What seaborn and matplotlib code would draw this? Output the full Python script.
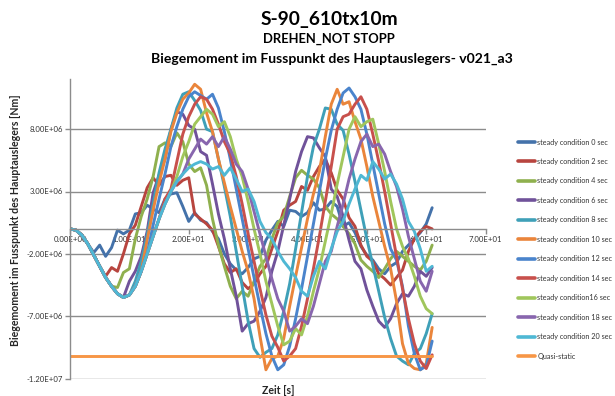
import numpy as np
import pandas as pd
import matplotlib
matplotlib.use("Agg")
import matplotlib.pyplot as plt
import seaborn as sns
from matplotlib.ticker import FixedLocator, FuncFormatter
from matplotlib.lines import Line2D

# Time stamps in seconds (one sample per second)
TIME_S = list(range(62))

# Bending moment at the boom foot, in units of 1e6 Nm
SC_00 = [0.0, -0.1, -0.5, -1.2, -1.9, -1.3, -2.2, -1.5, -0.1, -0.4,
         -0.1, 1.2, 1.3, 1.9, 1.6, 1.3, 2.4, 2.8, 2.9, 1.8,
         0.6, 1.3, 0.7, 0.5, -0.2, -0.8, -2.0, -2.8, -3.3, -3.6,
         -3.1, -2.4, -2.2, -0.9, -0.1, 0.6, 0.2, 1.5, 1.4, 1.0,
         1.3, 2.1, 1.5, 1.6, 2.2, 1.8, 0.2, 0.5, -0.3, -1.4,
         -2.1, -2.5, -3.2, -3.6, -3.0, -2.7, -1.8, -1.3, -0.8, -0.3,
         0.4, 1.7]
SC_02 = [0.0, -0.1, -0.5, -1.2, -2.1, -3.0, -3.8, -3.1, -3.4, -2.0,
         -0.4, 0.3, 1.8, 3.3, 4.1, 3.5, 4.2, 4.3, 3.5, 3.9,
         4.1, 1.2, 0.8, 0.4, -0.1, -1.4, -2.8, -3.5, -3.2, -4.3,
         -4.8, -4.4, -3.6, -3.0, -1.6, -0.2, 1.5, 1.9, 2.2, 3.4,
         3.1, 4.2, 5.0, 5.6, 4.5, 3.1, 2.4, 0.9, 0.2, -1.3,
         -2.2, -2.6, -3.6, -4.0, -4.5, -3.9, -3.3, -1.8, -0.8, -0.2,
         0.2, 0.0]
SC_04 = [0.0, -0.1, -0.5, -1.2, -2.1, -3.0, -3.9, -4.6, -4.7, -3.5,
         -3.2, -0.8, 1.0, 2.4, 4.2, 6.6, 6.9, 6.6, 7.7, 7.0,
         5.2, 4.6, 4.9, 3.5, 0.8, -1.3, -3.0, -4.6, -5.6, -5.0,
         -5.4, -4.2, -3.0, -2.4, -0.8, 0.5, 1.0, 2.6, 4.1, 4.7,
         4.3, 4.0, 3.3, 1.8, 1.2, 0.8, 0.2, -0.4, -1.2, -2.5,
         -3.0, -3.4, -3.9, -3.2, -2.4, -1.8, -2.2, -2.6, -3.0, -3.3,
         -2.6, -1.3]
SC_06 = [0.0, -0.1, -0.5, -1.2, -2.1, -3.0, -3.9, -4.6, -5.2, -5.5,
         -4.2, -3.4, -2.2, -0.2, 2.9, 4.3, 5.6, 8.0, 9.4, 9.2,
         8.3, 8.0, 6.2, 5.9, 3.6, 1.2, -0.8, -3.2, -5.4, -8.2,
         -7.6, -7.4, -6.6, -5.5, -3.4, -1.8, 0.3, 2.4, 4.6, 6.2,
         7.4, 7.3, 6.5, 5.8, 3.2, 2.6, 1.0, -0.9, -2.6, -3.2,
         -4.9, -6.2, -7.4, -7.9, -7.2, -6.0, -5.2, -5.4, -4.6, -3.4,
         -3.8, -3.1]
SC_08 = [0.0, -0.1, -0.5, -1.2, -2.1, -3.0, -3.9, -4.6, -5.2, -5.5,
         -5.3, -4.2, -2.6, -0.5, 2.0, 4.5, 6.4, 8.0, 9.7, 10.8,
         11.0, 10.3, 9.5, 8.0, 7.8, 5.6, 3.4, 1.0, -1.8, -4.6,
         -7.4, -9.6, -10.3, -9.9, -9.6, -8.5, -6.6, -4.4, -1.6, 1.3,
         4.2, 6.6, 8.0, 9.7, 9.6, 8.4, 7.9, 6.0, 3.8, 1.5,
         -0.8, -2.9, -5.0, -7.1, -8.8, -10.2, -10.6, -10.9, -10.0, -9.6,
         -8.4, -6.8]
SC_10 = [0.0, -0.1, -0.5, -1.2, -2.1, -3.0, -3.9, -4.6, -5.2, -5.5,
         -5.3, -4.6, -3.4, -0.9, 1.5, 3.7, 5.6, 7.8, 9.3, 10.4,
         10.9, 11.6, 11.2, 9.3, 7.8, 5.6, 3.7, 1.8, 0.0, -1.8,
         -3.4, -5.6, -8.6, -11.3, -10.4, -10.2, -8.8, -6.2, -3.8, -1.5,
         0.8, 2.8, 4.6, 7.4, 10.0, 11.2, 10.0, 10.2, 8.6, 7.2,
         5.0, 2.6, 0.6, -1.4, -3.2, -5.8, -9.2, -10.8, -11.2, -11.3,
         -10.8, -7.9]
SC_12 = [0.0, -0.1, -0.5, -1.2, -2.1, -3.0, -3.9, -4.6, -5.2, -5.5,
         -5.3, -4.6, -3.4, -2.0, 0.3, 2.4, 4.4, 6.6, 8.2, 9.6,
         10.6, 11.0, 10.7, 10.4, 10.8, 9.7, 7.8, 5.6, 3.2, 0.8,
         -1.6, -3.9, -6.2, -8.4, -10.2, -11.3, -10.9, -9.4, -7.2, -4.8,
         -2.2, 0.4, 3.0, 5.6, 7.9, 9.6, 10.9, 11.3, 10.6, 9.6,
         7.6, 5.2, 2.8, 0.4, -1.6, -2.5, -4.6, -7.8, -10.0, -11.3,
         -11.0, -9.0]
SC_14 = [0.0, -0.1, -0.5, -1.2, -2.1, -3.0, -3.9, -4.6, -5.2, -5.5,
         -5.3, -4.6, -3.4, -2.0, -0.6, 0.8, 2.4, 3.2, 5.4, 7.6,
         9.0, 10.0, 10.6, 10.4, 9.6, 8.4, 7.0, 6.0, 4.2, 2.0,
         -0.4, -2.6, -4.8, -6.9, -8.6, -9.5, -10.6, -10.2, -9.6, -7.8,
         -5.6, -3.2, -0.6, 2.2, 5.0, 8.0, 9.0, 9.2, 10.0, 10.6,
         9.6, 7.6, 5.4, 3.0, 0.4, -2.2, -4.8, -7.2, -9.2, -10.6,
         -11.2, -10.1]
SC_16 = [0.0, -0.1, -0.5, -1.2, -2.1, -3.0, -3.9, -4.6, -5.2, -5.5,
         -5.3, -4.6, -3.4, -2.0, -0.6, 0.8, 2.0, 3.0, 4.2, 5.8,
         7.0, 8.4, 9.0, 9.6, 9.2, 8.2, 8.6, 7.4, 5.6, 4.2,
         2.2, 0.0, -2.0, -4.2, -6.0, -7.8, -9.3, -9.0, -8.0, -8.5,
         -7.0, -5.0, -3.2, -1.0, 1.2, 3.6, 5.8, 8.0, 9.0, 8.2,
         8.6, 8.8, 6.8, 4.6, 2.2, 0.0, -1.4, -2.4, -3.8, -5.4,
         -6.4, -6.8]
SC_18 = [0.0, -0.1, -0.5, -1.2, -2.1, -3.0, -3.9, -4.6, -5.2, -5.5,
         -5.3, -4.6, -3.4, -2.0, -0.6, 0.8, 2.0, 3.0, 3.8, 4.4,
         5.6, 6.4, 7.2, 6.8, 7.4, 6.6, 7.4, 6.4, 5.2, 4.6,
         3.2, 1.4, -0.4, -2.2, -4.0, -5.6, -6.6, -8.2, -7.8, -7.2,
         -7.6, -6.2, -4.4, -2.6, -1.8, 0.2, 2.0, 4.0, 5.6, 7.0,
         7.6, 6.6, 6.8, 6.0, 4.6, 3.4, 1.6, -0.6, -2.4, -4.2,
         -5.0, -3.4]
SC_20 = [0.0, -0.1, -0.5, -1.2, -2.1, -3.0, -3.9, -4.6, -5.2, -5.5,
         -5.3, -4.6, -3.4, -2.0, -0.6, 0.8, 2.0, 3.0, 3.8, 4.4,
         4.9, 5.2, 5.4, 5.2, 4.8, 5.0, 4.3, 4.9, 4.0, 3.0,
         3.2, 2.2, 0.6, -0.3, -0.8, -1.8, -2.6, -3.2, -3.9, -5.0,
         -5.4, -3.8, -2.6, -3.2, -1.6, -0.2, 0.6, 2.0, 3.2, 4.3,
         3.9, 5.4, 4.8, 4.0, 4.4, 3.6, 2.4, 0.6, -0.2, -1.6,
         -3.4, -3.0]
QUASI_T = [0, 61]
QUASI_V = [-10.2, -10.2]

SERIES_NAMES = [
    "steady condition 0 sec", "steady condition 2 sec", "steady condition 4 sec",
    "steady condition 6 sec", "steady condition 8 sec", "steady condition 10 sec",
    "steady condition 12 sec", "steady condition 14 sec", "steady condition16 sec",
    "steady condition 18 sec", "steady condition 20 sec", "Quasi-static",
]
SERIES_COLORS = [
    "#4472AA", "#B8453F", "#8FB04E", "#70529A", "#3FA0B8", "#EA853B",
    "#4A84CC", "#C8504C", "#A0C65C", "#8866AE", "#4FB8D4", "#F79646",
]
X_TICKS = [0, 10, 20, 30, 40, 50, 60, 70]
Y_TICKS = [-1.2e7, -7e6, -2e6, 3e6, 8e6]

series_values = [SC_00, SC_02, SC_04, SC_06, SC_08, SC_10,
                 SC_12, SC_14, SC_16, SC_18, SC_20]

frames = []
for name, vals in zip(SERIES_NAMES[:-1], series_values):
    frames.append(pd.DataFrame({"t": TIME_S[:len(vals)],
                                "v": np.array(vals) * 1e6,
                                "series": name}))
frames.append(pd.DataFrame({"t": QUASI_T, "v": np.array(QUASI_V) * 1e6,
                            "series": SERIES_NAMES[-1]}))
df = pd.concat(frames, ignore_index=True)

sns.set_style("white")
plt.rcParams["font.family"] = ["Lato", "DejaVu Sans"]

fig = plt.figure(figsize=(6.15, 3.96), dpi=100)
ax = fig.add_axes([70 / 615, 17.5 / 396, 415.6 / 615, 299.2 / 396])

palette = dict(zip(SERIES_NAMES, SERIES_COLORS))
sns.lineplot(data=df, x="t", y="v", hue="series", hue_order=SERIES_NAMES,
             palette=palette, linewidth=2.1, sort=False, estimator=None,
             legend=False, ax=ax)

ax.set_xlim(0, 70)
ax.set_ylim(-1.2e7, 1.2e7)
ax.xaxis.set_major_locator(FixedLocator(X_TICKS))
ax.yaxis.set_major_locator(FixedLocator(Y_TICKS))
sci = FuncFormatter(lambda v, _: f"{v:.2E}")
ax.xaxis.set_major_formatter(sci)
ax.yaxis.set_major_formatter(sci)
ax.set_xlabel("")
ax.set_ylabel("")

ax.yaxis.grid(True, color="#8c8c8c", linewidth=1.0)
ax.xaxis.grid(False)
ax.set_axisbelow(True)
for side in ("top", "right"):
    ax.spines[side].set_visible(False)
ax.spines["bottom"].set_position(("data", 0))
for side in ("left", "bottom"):
    ax.spines[side].set_color("#8c8c8c")
    ax.spines[side].set_linewidth(1.0)
ax.tick_params(axis="both", which="major", labelsize=5.6, labelcolor="#333333",
               color="#8c8c8c", width=1.0, length=3.5, pad=1.5, direction="out")
ax.tick_params(axis="y", left=True)
ax.tick_params(axis="x", bottom=True)

# Titles
fig.text(0.535, 1 - 19 / 396, "S-90_610tx10m", ha="center", va="center",
         fontsize=13.8, fontweight="bold", color="black")
fig.text(0.535, 1 - 38.5 / 396, "DREHEN_NOT STOPP", ha="center", va="center",
         fontsize=9.4, fontweight="bold", color="black")
fig.text(0.539, 1 - 59 / 396, "Biegemoment im Fusspunkt des Hauptauslegers- v021_a3",
         ha="center", va="center", fontsize=10.1, fontweight="bold", color="black")
fig.text(16 / 615, 1 - 220 / 396, "Biegemoment im Fusspunkt des Hauptauslegers [Nm]",
         ha="center", va="center", rotation=90, fontsize=7.6, fontweight="bold")
fig.text(278 / 615, 1 - 391 / 396, "Zeit [s]", ha="center", va="center",
         fontsize=7.6, fontweight="bold")

# Legend on the right
handles = [Line2D([0], [0], color=c, linewidth=2.6) for c in SERIES_COLORS]
fig.legend(handles, SERIES_NAMES, loc="upper left",
           bbox_to_anchor=(518 / 615, 1 - 138.5 / 396), frameon=False,
           fontsize=5.2, handlelength=2.35, handletextpad=0.3,
           labelspacing=1.73, borderpad=0, borderaxespad=0,
           labelcolor="#333333")

fig.savefig("out.png", dpi=100)
